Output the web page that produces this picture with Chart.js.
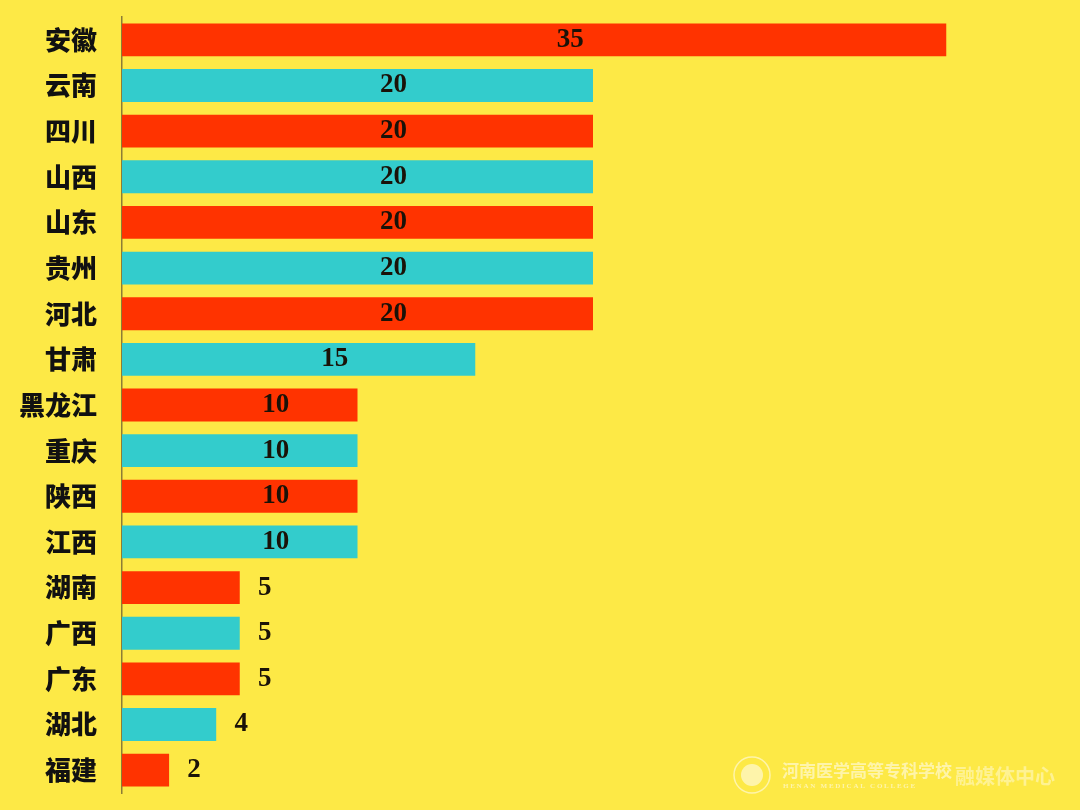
<!DOCTYPE html>
<html><head><meta charset="utf-8">
<script src="https://cdn.jsdelivr.net/npm/chart.js@4/dist/chart.umd.min.js"></script>
<style>html,body{margin:0;padding:0;background:#FDE946;}#wrap{width:1080px;height:810px;position:relative;}</style>
</head><body><div id="wrap"><canvas id="c" width="1080" height="810"></canvas></div>
<script>
const provinces = ["安徽","云南","四川","山西","山东","贵州","河北","甘肃","黑龙江","重庆","陕西","江西","湖南","广西","广东","湖北","福建"];
const counts = [35,20,20,20,20,20,20,15,10,10,10,10,5,5,5,4,2];
const xMax = 40;

const RED = "#FF3300", TEAL = "#33CCCC";

const bgPlugin = {
  id: "bg",
  beforeDraw(chart) {
    const ctx = chart.ctx;
    ctx.save(); ctx.fillStyle = "#FDE946"; ctx.fillRect(0,0,chart.width,chart.height); ctx.restore();
  }
};

const labelPlugin = {
  id: "vals",
  afterDatasetsDraw(chart) {
    const ctx = chart.ctx;
    const meta = chart.getDatasetMeta(0);
    ctx.save();
    ctx.font = "bold 27px 'Liberation Serif', serif";
    ctx.fillStyle = "#1a1208";
    ctx.textAlign = "center";
    ctx.textBaseline = "middle";
    meta.data.forEach((bar, i) => {
      const v = counts[i];
      const center = (bar.x + bar.base) / 2;
      let x = v >= 10 ? center + 36 : bar.x + 25;
      ctx.fillText(String(v), x, bar.y);
    });
    ctx.restore();
  }
};

const watermark = {
  id: "wm",
  afterDraw(chart) {
    const ctx = chart.ctx;
    ctx.save();
    ctx.globalAlpha = 0.65;
    ctx.strokeStyle = "#fffbe0"; ctx.fillStyle = "#fffbe0";
    ctx.lineWidth = 1.5;
    ctx.beginPath(); ctx.arc(752, 775, 18, 0, Math.PI*2); ctx.stroke();
    ctx.beginPath(); ctx.arc(752, 775, 11, 0, Math.PI*2); ctx.fill();
    ctx.font = "bold 17px 'Noto Sans CJK SC'";
    ctx.textBaseline = "middle"; ctx.textAlign = "left";
    ctx.fillText("河南医学高等专科学校", 782, 771);
    ctx.font = "bold 7px 'Liberation Serif'";
    ctx.fillText("H E N A N   M E D I C A L   C O L L E G E", 783, 786);
    ctx.font = "bold 20px 'Noto Sans CJK SC'";
    ctx.globalAlpha = 0.5;
    ctx.fillText("融媒体中心", 955, 776);
    ctx.restore();
  }
};

new Chart(document.getElementById("c"), {
  type: "bar",
  data: {
    labels: provinces,
    datasets: [{
      data: counts,
      backgroundColor: counts.map((_, i) => i % 2 === 0 ? RED : TEAL),
      borderWidth: 0,
      barPercentage: 0.8,
      categoryPercentage: 0.9
    }]
  },
  options: {
    indexAxis: "y",
    responsive: false,
    animation: false,
    devicePixelRatio: 1,
    layout: { padding: { top: 17, bottom: 17, right: 16, left: 0 } },
    plugins: { legend: { display: false }, tooltip: { enabled: false } },
    scales: {
      x: { display: false, min: 0, max: xMax },
      y: {
        afterFit(scale) { scale.width = 122; scale.paddingTop = 0; scale.paddingBottom = 0; },
        grid: { display: false, drawTicks: false },
        border: { display: true, color: "#8c7d35", width: 1.5 },
        ticks: {
          padding: 25,
          color: "#111111",
          font: { family: "'Noto Sans CJK SC', sans-serif", size: 26, weight: "900" }
        }
      }
    }
  },
  plugins: [bgPlugin, labelPlugin, watermark]
});
</script>
</body></html>
